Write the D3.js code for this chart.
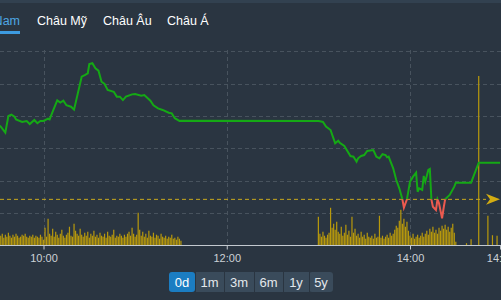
<!DOCTYPE html>
<html><head><meta charset="utf-8">
<script src="https://cdn.jsdelivr.net/npm/d3@7"></script>
<style>html,body{margin:0;padding:0;background:#2a3541;overflow:hidden}svg{display:block}</style>
</head><body><svg id="c" width="501" height="300"></svg>
<script>
const tabs = ["Việt Nam","Châu Mỹ","Châu Âu","Châu Á"];
const ranges = ["0d","1m","3m","6m","1y","5y"];
const xTicks = ["10:00","12:00","14:00","14:59"];
const yTicks = [1248,1250,1252,1254,1256,1258,1260];
const refPrice = 1250.86;
const priceTimes = ["09:30","09:32","09:35","09:37","09:39","09:41","09:42","09:46","09:49","09:51","09:54","09:56","09:58","10:00","10:03","10:04","10:06","10:09","10:11","10:13","10:15","10:18","10:20","10:25","10:27","10:29","10:30","10:32","10:34","10:36","10:38","10:40","10:42","10:46","10:48","10:50","10:52","10:54","10:58","11:00","11:04","11:06","11:10","11:12","11:15","11:18","11:22","11:24","11:26","11:29","11:30","13:00","13:01","13:03","13:05","13:08","13:11","13:13","13:14","13:17","13:21","13:23","13:25","13:26","13:28","13:30","13:32","13:36","13:38","13:40","13:42","13:44","13:45","13:46","13:49","13:51","13:53","13:55","13:56","13:58","14:00","14:02","14:04","14:05","14:06","14:08","14:09","14:10","14:12","14:13","14:14","14:15","14:17","14:18","14:19","14:21","14:22","14:23","14:26","14:29","14:30","14:40","14:45","14:59"];
const priceValues = [1255.50,1255.34,1254.97,1256.00,1256.08,1255.95,1255.79,1255.63,1255.69,1255.50,1255.75,1255.55,1255.69,1255.69,1255.83,1255.79,1256.26,1256.96,1256.82,1256.94,1256.66,1256.57,1256.39,1258.42,1258.52,1258.63,1259.20,1259.25,1258.94,1258.79,1258.11,1257.97,1257.60,1257.49,1257.19,1257.19,1256.98,1257.19,1257.33,1257.35,1257.25,1257.29,1256.94,1256.66,1256.47,1256.37,1256.20,1256.16,1255.86,1255.69,1255.71,1255.69,1255.67,1255.63,1255.34,1255.13,1254.31,1254.47,1254.35,1254.15,1253.53,1253.49,1253.18,1253.39,1253.53,1253.59,1253.84,1253.90,1253.49,1253.39,1253.64,1253.59,1253.45,1253.49,1252.77,1252.05,1251.54,1250.86,1250.35,1250.86,1251.95,1252.26,1252.50,1251.33,1251.54,1251.44,1252.30,1251.95,1252.67,1252.73,1250.86,1250.40,1250.20,1250.86,1250.62,1249.69,1250.31,1250.86,1251.13,1251.64,1251.89,1251.89,1253.12,1253.12];
const volMorningStart = "09:32";
const volMorning = [100,120,80,110,90,130,100,80,110,90,120,100,80,90,110,100,120,90,80,100,90,110,80,100,90,80,110,90,
  60,180,90,270,120,100,170,90,140,110,80,
  120,160,100,80,110,130,190,100,90,220,150,120,100,170,110,90,130,100,140,80,
  120,100,150,90,110,80,130,100,90,120,80,140,100,90,110,160,80,100,90,120,
  100,80,110,90,120,140,100,180,120,90,
  110,330,160,100,140,90,120,80,150,100,90,130,80,110,100,70,120,90,80,100,70,90,80,110,70,80,60,90,70,50];
const volAfternoonStart = "13:00";
const volAfternoon = [290,120,90,140,100,80,110,130,380,180,
  220,160,240,140,120,190,100,130,210,110,
  150,90,290,130,170,100,120,80,140,90,
  110,70,130,90,80,100,70,120,80,90,
  300,80,100,70,90,110,80,130,100,120,
  160,200,180,250,360,220,270,190,240,150,
  100,80,120,70,90,110,80,100,130,90,
  120,150,110,170,140,190,130,160,120,180,
  150,200,170,210,160,190,140,180,220,130,
  40];
const volExtraTimes = ["14:37","14:40","14:45","14:51","14:54","14:57"];
const volExtra = [25,65,1700,300,105,100];

const toMin = s => { const [h,m] = s.split(":").map(Number); return h*60+m; };
const fmt = m => String(Math.floor(m/60)).padStart(2,"0")+":"+String(m%60).padStart(2,"0");

const svg = d3.select("#c");
const W = 501, H = 300;
const x = d3.scaleLinear().domain([toMin("10:00"), toMin("14:00")]).range([43.5, 410]);
const y = d3.scaleLinear().domain([1250, 1260]).range([213.3, 51.05]);
const yv = d3.scaleLinear().domain([0, 1700]).range([245.7, 76]);
const font = "'Liberation Sans', Arial, sans-serif";

svg.append("rect").attr("width", W).attr("height", H).attr("fill", "#2a3541");
svg.append("rect").attr("width", W).attr("height", 3).attr("fill", "#324150");

// tabs
const tabX = [20, 37, 103, 167];
tabs.forEach((t, i) => {
  svg.append("text").attr("x", tabX[i]).attr("y", 25)
    .attr("text-anchor", i === 0 ? "end" : "start")
    .attr("font-family", font).attr("font-size", 12.5)
    .attr("fill", i === 0 ? "#4ea7e4" : "#ffffff").text(t);
});
svg.append("rect").attr("x", 0).attr("y", 31).attr("width", 20).attr("height", 3).attr("fill", "#3d9be0");

// grid
const grid = svg.append("g");
grid.selectAll("line.h").data(yTicks.slice(1)).join("line")
  .attr("x1", 0).attr("x2", W).attr("y1", d => Math.round(y(d)) + 0.5).attr("y2", d => Math.round(y(d)) + 0.5)
  .attr("stroke", "#48535e").attr("stroke-dasharray", "4,3");
grid.selectAll("line.v").data(xTicks.slice(0, 3)).join("line")
  .attr("x1", d => Math.round(x(toMin(d))) + 0.5).attr("x2", d => Math.round(x(toMin(d))) + 0.5)
  .attr("y1", 50).attr("y2", 245)
  .attr("stroke", "#48535e").attr("stroke-dasharray", "4,3");

// volume
const vol = [];
volMorning.forEach((v, i) => vol.push({t: toMin(volMorningStart) + i, v}));
volAfternoon.forEach((v, i) => vol.push({t: toMin(volAfternoonStart) + i, v}));
volExtraTimes.forEach((t, i) => vol.push({t: toMin(t), v: volExtra[i]}));
const bw = 1.2;
svg.append("g").selectAll("rect").data(vol).join("rect")
  .attr("x", d => x(d.t) - bw/2).attr("width", bw)
  .attr("y", d => yv(d.v)).attr("height", d => yv(0) - yv(d.v))
  .attr("fill", "#b8990c");

// axis baseline
svg.append("line").attr("x1", 0).attr("x2", W).attr("y1", 245.5).attr("y2", 245.5)
  .attr("stroke", "#c3c9cf").attr("stroke-width", 1);

const ax = svg.append("g").attr("transform", "translate(0,245.5)")
  .call(d3.axisBottom(x).tickValues(xTicks.map(toMin)).tickFormat(fmt).tickSize(4).tickPadding(5));
ax.select(".domain").remove();
ax.selectAll(".tick line").attr("stroke", "#c3c9cf");
ax.selectAll(".tick text").attr("fill", "#ccd1d6").attr("font-family", font).attr("font-size", 11);

// reference line
const yr = y(refPrice);
svg.append("line").attr("x1", 0).attr("x2", 486).attr("y1", yr).attr("y2", yr)
  .attr("stroke", "#c9a91c").attr("stroke-dasharray", "4,3").attr("stroke-width", 1);
svg.append("path").attr("d", `M486,${yr-5.5}L500,${yr}L486,${yr+5.5}L490,${yr}Z`).attr("fill", "#d4ad12");

// price line
const defs = svg.append("defs");
defs.append("clipPath").attr("id", "up").append("rect").attr("x", 0).attr("y", 0).attr("width", W).attr("height", yr);
defs.append("clipPath").attr("id", "dn").append("rect").attr("x", 0).attr("y", yr).attr("width", W).attr("height", H - yr);
const pts = priceTimes.map((t, i) => ({t: toMin(t), v: priceValues[i]}));
const line = d3.line().x(d => x(d.t)).y(d => y(d.v));
svg.append("path").datum(pts).attr("d", line).attr("fill", "none")
  .attr("stroke", "#15a915").attr("stroke-width", 2).attr("clip-path", "url(#up)");
svg.append("path").datum(pts).attr("d", line).attr("fill", "none")
  .attr("stroke", "#ec5a4f").attr("stroke-width", 2).attr("clip-path", "url(#dn)");

// range buttons
const bx = d3.scaleBand().domain(ranges).range([169, 334]).padding(0);
const bg = svg.append("g");
const bwid = [26, 29, 30, 29, 26, 24];
let cx = 169;
ranges.forEach((r, i) => {
  const w = bwid[i];
  bg.append("rect").attr("x", cx).attr("y", 272).attr("width", w).attr("height", 20)
    .attr("rx", (i === 0 || i === ranges.length - 1) ? 3 : 0)
    .attr("fill", i === 0 ? "#1b7dc2" : "#3a4b5b");
  bg.append("text").attr("x", cx + w/2).attr("y", 286.5).attr("text-anchor", "middle")
    .attr("font-family", font).attr("font-size", 13)
    .attr("fill", i === 0 ? "#ffffff" : "#e3e8ec").text(r);
  if (i > 0) bg.append("line").attr("x1", cx + 0.5).attr("x2", cx + 0.5).attr("y1", 272).attr("y2", 292).attr("stroke", "#2a3541");
  cx += w;
});
</script></body></html>
